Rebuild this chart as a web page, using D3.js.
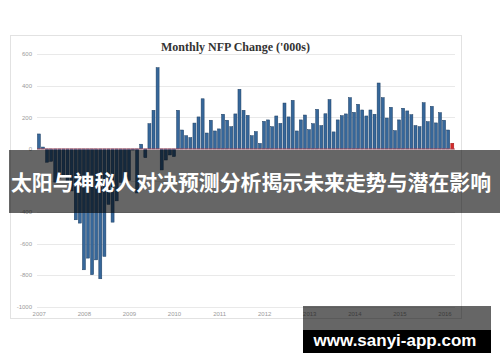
<!DOCTYPE html>
<html>
<head>
<meta charset="utf-8">
<script src="https://cdn.jsdelivr.net/npm/d3@7"></script>
<style>
  html, body { margin: 0; padding: 0; background: #fff; }
  svg { display: block; }
  .ytick, .xtick { font-family: "Liberation Sans", Arial, sans-serif; font-size: 6px; fill: #9a9a9a; }
</style>
</head>
<body>
<svg id="chart" width="500" height="362"></svg>
<script>
// monthly NFP change ('000s), Dec 2007 .. May 2016
var nfp2007 = [95];
var nfp2008 = [12, -84, -78, -210, -185, -165, -209, -266, -449, -470, -766, -692];
var nfp2009 = [-797, -703, -823, -681, -351, -464, -329, -212, -219, -200, -7, -279];
var nfp2010 = [30, -55, 160, 245, 515, -133, -70, -38, -48, 245, 120, 84];
var nfp2011 = [72, 164, 203, 318, 101, 182, 114, 127, 220, 182, 141, 222];
var nfp2012 = [378, 245, 213, 84, 110, 35, 175, 184, 141, 209, 162, 291];
var nfp2013 = [203, 308, 114, 184, 215, 122, 160, 251, 148, 223, 313, 108];
var nfp2014 = [184, 211, 222, 325, 232, 283, 247, 209, 247, 220, 418, 325];
var nfp2015 = [196, 264, 116, 184, 258, 241, 217, 148, 141, 293, 173, 270];
var nfp2016 = [165, 230, 182, 120, 36];

var years = ["2007", "2008", "2009", "2010", "2011", "2012", "2013", "2014", "2015", "2016"];
var gridTicks = [600, 400, 200, 0, -200, -400, -600, -800, -1000];
// -200 label sits under the banner and is not visible
var labelTicks = [600, 400, 200, 0, -400, -600, -800, -1000];

var title = "Monthly NFP Change ('000s)";
var banner = "太阳与神秘人对决预测分析揭示未来走势与潜在影响";
var watermark = "www.sanyi-app.com";

// build month rows from the yearly lists
var series = [[2007, nfp2007, 12], [2008, nfp2008, 1], [2009, nfp2009, 1], [2010, nfp2010, 1],
              [2011, nfp2011, 1], [2012, nfp2012, 1], [2013, nfp2013, 1], [2014, nfp2014, 1],
              [2015, nfp2015, 1], [2016, nfp2016, 1]];
var data = [];
series.forEach(function(s) {
    s[1].forEach(function(v, j) {
        data.push({"month": s[0] + "-" + (s[2] + j), "value": v});
    });
});

var svg = d3.select("#chart");

// chart frame
svg.append("rect")
    .attr("x", 10.5).attr("y", 35.5)
    .attr("width", 451).attr("height", 283)
    .attr("fill", "#fff").attr("stroke", "#e2e2e2");

var x = d3.scaleBand()
    .domain(data.map(function(d) { return d.month; }))
    .range([37, 454.2])
    .paddingInner(0.27)
    .paddingOuter(0.1);

var y = d3.scaleLinear()
    .domain([-1000, 600])
    .range([306.7, 54.3]);

// year labels sit on their own even spacing
var xYear = d3.scalePoint()
    .domain(years)
    .range([39.3, 445]);

// gridlines
svg.append("g")
    .selectAll("line")
    .data(gridTicks)
  .enter().append("line")
    .attr("x1", 37).attr("x2", 455)
    .attr("y1", function(d) { return Math.round(y(d)) + 0.5; })
    .attr("y2", function(d) { return Math.round(y(d)) + 0.5; })
    .attr("stroke", "#e9e9e9");

svg.append("g")
    .selectAll("text")
    .data(labelTicks)
  .enter().append("text")
    .attr("class", "ytick")
    .attr("x", 32)
    .attr("y", function(d) { return y(d); })
    .attr("dy", "0.35em")
    .attr("text-anchor", "end")
    .text(function(d) { return d; });

svg.append("g")
    .selectAll("text")
    .data(years)
  .enter().append("text")
    .attr("class", "xtick")
    .attr("x", function(d) { return xYear(d); })
    .attr("y", 315.5)
    .attr("text-anchor", "middle")
    .text(function(d) { return d; });

// title
svg.append("text")
    .attr("x", 235.5).attr("y", 51)
    .attr("text-anchor", "middle")
    .attr("font-family", "'Liberation Serif', 'DejaVu Serif', serif")
    .attr("font-weight", "bold")
    .attr("font-size", 12)
    .attr("fill", "#333")
    .text(title);

// bars
var last = data.length - 1;
svg.append("g")
    .selectAll("rect")
    .data(data)
  .enter().append("rect")
    .attr("x", function(d) { return x(d.month); })
    .attr("width", x.bandwidth())
    .attr("y", function(d) { return y(Math.max(0, d.value)); })
    .attr("height", function(d) { return Math.abs(y(d.value) - y(0)); })
    .attr("fill", function(d, i) { return i === last ? "#d42a2a" : "#36679a"; })
    .attr("stroke", function(d, i) { return i === last ? "#a01818" : "#1d3d60"; })
    .attr("stroke-width", 0.5);

// zero line
svg.append("line")
    .attr("x1", 37).attr("x2", 455)
    .attr("y1", y(0)).attr("y2", y(0))
    .attr("stroke", "#b8485a").attr("stroke-width", 0.8);

// overlay banner
svg.append("rect")
    .attr("x", 9).attr("y", 150)
    .attr("width", 491).attr("height", 63)
    .attr("fill", "rgba(0,0,0,0.6)");

svg.append("text")
    .attr("x", 251).attr("y", 182)
    .attr("dy", "0.36em")
    .attr("text-anchor", "middle")
    .attr("textLength", 480)
    .attr("lengthAdjust", "spacingAndGlyphs")
    .attr("font-family", "'Noto Sans CJK SC', sans-serif")
    .attr("font-weight", "bold")
    .attr("font-size", 21)
    .attr("fill", "#fff")
    .text(banner);

// watermark box
svg.append("rect")
    .attr("x", 303).attr("y", 306)
    .attr("width", 188).attr("height", 24)
    .attr("fill", "rgba(0,0,0,0.6)");
svg.append("rect")
    .attr("x", 303).attr("y", 330)
    .attr("width", 188).attr("height", 23)
    .attr("fill", "#000");
svg.append("text")
    .attr("x", 395).attr("y", 346)
    .attr("text-anchor", "middle")
    .attr("font-family", "'Liberation Sans', Arial, sans-serif")
    .attr("font-weight", "bold")
    .attr("font-size", 17)
    .attr("fill", "#fff")
    .text(watermark);
</script>
</body>
</html>
